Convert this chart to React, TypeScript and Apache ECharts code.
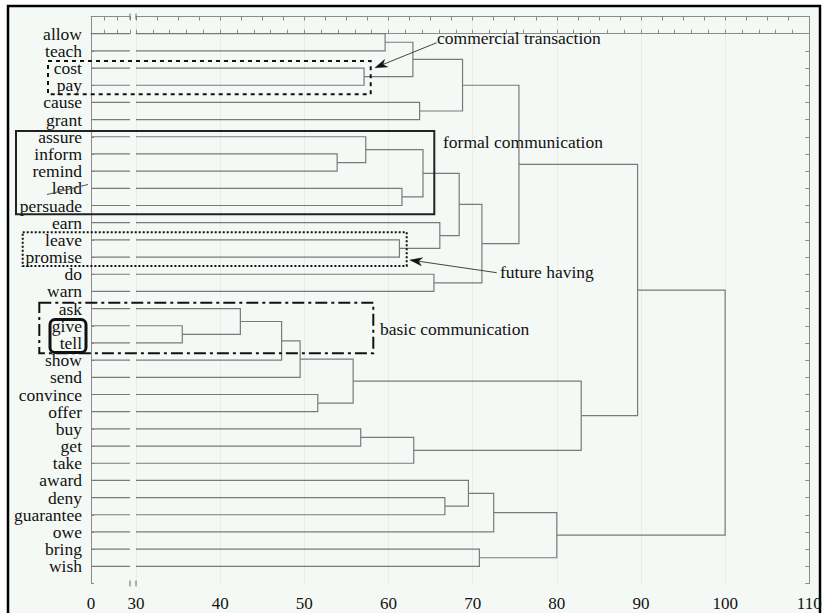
import React, { useEffect, useRef } from "react";
import * as echarts from "echarts";

// Leaves of the dendrogram, top to bottom
const leaves = [
  "allow", "teach", "cost", "pay", "cause", "grant", "assure", "inform", "remind",
  "lend", "persuade", "earn", "leave", "promise", "do", "warn", "ask", "give", "tell",
  "show", "send", "convince", "offer", "buy", "get", "take", "award", "deny",
  "guarantee", "owe", "bring", "wish",
];

// Merges: [child A, child B, linkage distance]; indices >= 32 are clusters in creation order
const merges: [number, number, number][] = [
  [0, 1, 59.6],    // 32 allow+teach
  [2, 3, 57.1],    // 33 cost+pay
  [32, 33, 62.9],  // 34
  [4, 5, 63.7],    // 35 cause+grant
  [34, 35, 68.8],  // 36
  [7, 8, 53.9],    // 37 inform+remind
  [6, 37, 57.3],   // 38 assure+...
  [9, 10, 61.6],   // 39 lend+persuade
  [38, 39, 64.1],  // 40
  [12, 13, 61.3],  // 41 leave+promise
  [11, 41, 66.1],  // 42 earn+...
  [40, 42, 68.4],  // 43
  [14, 15, 65.4],  // 44 do+warn
  [43, 44, 71.1],  // 45
  [36, 45, 75.5],  // 46
  [17, 18, 35.5],  // 47 give+tell
  [16, 47, 42.4],  // 48 ask+...
  [48, 19, 47.3],  // 49 +show
  [49, 20, 49.5],  // 50 +send
  [21, 22, 51.6],  // 51 convince+offer
  [50, 51, 55.8],  // 52
  [23, 24, 56.7],  // 53 buy+get
  [53, 25, 63.0],  // 54 +take
  [52, 54, 82.9],  // 55
  [46, 55, 89.6],  // 56
  [27, 28, 66.7],  // 57 deny+guarantee
  [26, 57, 69.5],  // 58 award+...
  [58, 29, 72.5],  // 59 +owe
  [30, 31, 70.8],  // 60 bring+wish
  [59, 60, 80.0],  // 61
  [56, 61, 100.0], // 62 root
];

const mainTicks = [30, 40, 50, 60, 70, 80, 90, 100, 110];
const breakStart = 30;

const annotations = [
  { text: "commercial transaction", x: 437, y: 38 },
  { text: "formal communication", x: 443, y: 142 },
  { text: "future having", x: 500, y: 272 },
  { text: "basic communication", x: 380, y: 329 },
];

const LINE = "#7a7a7a";
const AXIS = "#8c8c8c";
const BG = "#f5f9f6";
const FONT = "'Liberation Serif', 'DejaVu Serif', serif";

function arrow(x1: number, y1: number, x2: number, y2: number) {
  const dx = x2 - x1, dy = y2 - y1;
  const len = Math.hypot(dx, dy);
  const ux = dx / len, uy = dy / len;
  const px = -uy, py = ux;
  const bx = x2 - 12 * ux, by = y2 - 12 * uy;
  const nx = x2 - 8.5 * ux, ny = y2 - 8.5 * uy;
  return [
    { type: "line", z: 100, shape: { x1, y1, x2: nx, y2: ny }, style: { stroke: "#444", lineWidth: 1 } },
    {
      type: "polygon", z: 100,
      shape: { points: [[x2, y2], [bx + 4 * px, by + 4 * py], [nx, ny], [bx - 4 * px, by - 4 * py]] },
      style: { fill: "#111", stroke: "#111", lineWidth: 0.5 },
    },
  ];
}

export default function App() {
  const ref = useRef<HTMLDivElement>(null);
  useEffect(() => {
    document.body.style.margin = "0";
    if (!ref.current) return;
    const chart = echarts.init(ref.current, null, { renderer: "svg" });

    const yPos: number[] = leaves.map((_, i) => i);
    const hPos: number[] = leaves.map(() => breakStart);
    const links: any[] = [];
    merges.forEach(([a, b, h]) => {
      links.push({ coords: [[hPos[a], yPos[a]], [h, yPos[a]], [h, yPos[b]], [hPos[b], yPos[b]]] });
      yPos.push((yPos[a] + yPos[b]) / 2);
      hPos.push(h);
    });
    const stubs = leaves.map((_, i) => ({ coords: [[0, i], [breakStart, i]] }));

    const top = 16.5, height = 567;
    const g1 = { left: 91, top, width: 39, height };
    const g2 = { left: 136, top, width: 673.3, height };

    const yCommon = {
      type: "value", min: -1, max: 32, interval: 1, inverse: true,
      splitLine: { show: false },
      axisLine: { show: true, lineStyle: { color: AXIS, width: 1 } },
    };

    const boxes: any[] = [
      { type: "rect", z: 100, shape: { x: 48, y: 61, width: 322.7, height: 33.3 },
        style: { fill: "none", stroke: "#111", lineWidth: 2, lineDash: [4, 4] } },
      { type: "rect", z: 100, shape: { x: 16, y: 131, width: 418.3, height: 83.3 },
        style: { fill: "none", stroke: "#222", lineWidth: 2 } },
      { type: "rect", z: 100, shape: { x: 22.7, y: 232.3, width: 384, height: 33.7 },
        style: { fill: "none", stroke: "#111", lineWidth: 2, lineDash: [2, 2] } },
      { type: "rect", z: 100, shape: { x: 39.3, y: 302.7, width: 334, height: 50.6 },
        style: { fill: "none", stroke: "#111", lineWidth: 2, lineDash: [12, 4, 3, 4] } },
      { type: "rect", z: 100, shape: { x: 50, y: 319.5, width: 36, height: 33, r: 5 },
        style: { fill: "none", stroke: "#111", lineWidth: 3 } },
      { type: "line", z: 100, shape: { x1: 47, y1: 194.5, x2: 88, y2: 184.5 },
        style: { stroke: "#555", lineWidth: 1 } },
    ];

    const breakMarks: any[] = [];
    [130, 136].forEach((x) => {
      [top, top + height].forEach((y) => {
        breakMarks.push({ type: "line", z: 50, shape: { x1: x, y1: y - 3, x2: x, y2: y + 3 },
          style: { stroke: "#666", lineWidth: 1 } });
      });
    });

    const texts = annotations.map((a) => ({
      type: "text", z: 100, x: a.x, y: a.y,
      style: { text: a.text, fill: "#111", font: `17.5px ${FONT}`, verticalAlign: "middle" },
    }));

    chart.setOption({
      animation: false,
      backgroundColor: "#ffffff",
      grid: [
        { ...g1, containLabel: false },
        { ...g2, containLabel: false },
      ],
      xAxis: [
        {
          gridIndex: 0, type: "value", min: 0, max: 30, interval: 10, position: "bottom",
          axisLine: { show: true, lineStyle: { color: AXIS } },
          axisTick: { show: true, inside: true, length: 4, lineStyle: { color: AXIS } },
          axisLabel: { formatter: (v: number) => (v === 0 ? "0" : ""), color: "#111", fontFamily: FONT, fontSize: 17, margin: 11 },
          splitLine: { show: false },
        },
        {
          gridIndex: 1, type: "value", min: 30, max: 110, interval: 10, position: "bottom",
          axisLine: { show: true, lineStyle: { color: AXIS } },
          axisTick: { show: true, inside: true, length: 4, lineStyle: { color: AXIS } },
          minorTick: { show: true, splitNumber: 5, length: 4, lineStyle: { color: AXIS } },
          axisLabel: {
            formatter: (v: number) => (mainTicks.includes(v) ? String(v) : ""),
            color: "#111", fontFamily: FONT, fontSize: 17, margin: 11,
          },
          splitLine: { show: true, lineStyle: { color: "#dde2de", type: "dotted", width: 1 } },
        },
        {
          gridIndex: 0, type: "value", min: 0, max: 30, interval: 10, position: "top",
          axisLine: { show: true, lineStyle: { color: AXIS } },
          axisTick: { show: true, inside: true, length: 4, lineStyle: { color: AXIS } },
          axisLabel: { show: false }, splitLine: { show: false },
        },
        {
          gridIndex: 1, type: "value", min: 30, max: 110, interval: 2.5, position: "top",
          axisLine: { show: true, lineStyle: { color: AXIS } },
          axisTick: { show: true, inside: true, length: 4, lineStyle: { color: AXIS } },
          axisLabel: { show: false }, splitLine: { show: false },
        },
      ],
      yAxis: [
        {
          ...yCommon, gridIndex: 0, position: "left",
          axisTick: { show: true, inside: true, length: 3, lineStyle: { color: AXIS } },
          axisLabel: {
            formatter: (v: number) => leaves[v] ?? "",
            color: "#111", fontFamily: FONT, fontSize: 17.5, lineHeight: 15, margin: 9,
          },
        },
        {
          ...yCommon, gridIndex: 1, position: "right",
          axisTick: { show: true, inside: true, length: 4, lineStyle: { color: AXIS } },
          axisLabel: { show: false },
        },
      ],
      series: [
        {
          type: "lines", coordinateSystem: "cartesian2d", xAxisIndex: 0, yAxisIndex: 0,
          polyline: true, silent: true, data: stubs,
          lineStyle: { color: LINE, width: 1.2, opacity: 1 },
        },
        {
          type: "lines", coordinateSystem: "cartesian2d", xAxisIndex: 1, yAxisIndex: 1,
          polyline: true, silent: true, data: links,
          lineStyle: { color: LINE, width: 1.2, opacity: 1 },
        },
      ],
      graphic: [
        { type: "rect", z: -10, silent: true, shape: { x: 8, y: 6, width: 812, height: 640 },
          style: { fill: BG, stroke: "#000", lineWidth: 2.5 } },
        ...breakMarks,
        ...boxes,
        ...texts,
        ...arrow(436.7, 42.7, 375, 67.7),
        ...arrow(496.7, 272.7, 410, 260),
      ],
    });
    return () => chart.dispose();
  }, []);
  return <div ref={ref} style={{ width: 826, height: 613 }} />;
}
